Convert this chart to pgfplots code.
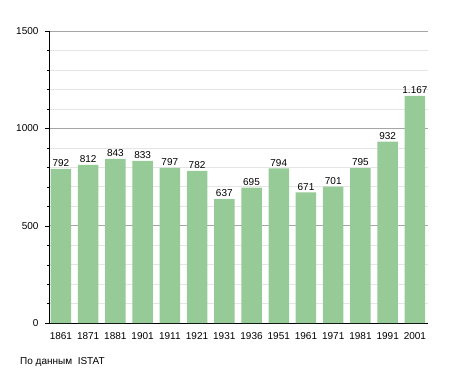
\documentclass[border=0pt]{standalone}
\usepackage{pgfplots}
\pgfplotsset{compat=1.18}
\usepackage{fontspec}
\setmainfont{Liberation Sans}
\definecolor{bargreen}{RGB}{150,202,150}
\begin{document}
\begin{tikzpicture}
\begin{axis}[
  at={(0,0)}, anchor=south west,
  scale only axis,
  width=378pt, height=292pt,
  xmin=-0.4, xmax=13.48,
  ymin=0, ymax=1500,
  ytick={0,500,1000,1500},
  minor y tick num=4,
  xtick={0,...,13},
  xticklabels={1861,1871,1881,1901,1911,1921,1931,1936,1951,1961,1971,1981,1991,2001},
  x tick style={draw=none},
  y tick style={black},
  tick align=outside,
  major tick length=5pt,
  minor tick length=3pt,
  axis x line*=bottom,
  axis y line*=left,
  axis line style={black, line width=1pt},
  ymajorgrids, yminorgrids,
  major grid style={gray!70, line width=0.6pt},
  minor grid style={gray!20, line width=0.6pt},
  /pgf/number format/assume math mode=true,
  /pgf/number format/1000 sep={},
  tick label style={font=\fontsize{10}{12}\selectfont},
  yticklabel style={xshift=-3pt},
  xticklabel style={yshift=-1pt},
  clip=false,
]
\addplot[ybar, bar width=20.5pt, fill=bargreen, draw=none,
  nodes near coords={\pgfmathprintnumber[1000 sep={.},assume math mode=true]{\pgfplotspointmeta}},
  every node near coord/.append style={font=\fontsize{10}{12}\selectfont, inner sep=2pt}]
  coordinates {(0,792) (1,812) (2,843) (3,833) (4,797) (5,782) (6,637) (7,695) (8,794) (9,671) (10,701) (11,795) (12,932) (13,1167)};
\end{axis}
\node[anchor=west, font=\fontsize{10}{12}\selectfont, inner sep=0pt] at (-30pt,-39pt) {По данным\ \ ISTAT};
\pgfresetboundingbox
\path (-50pt,-50pt) rectangle (405pt,323pt);
\end{tikzpicture}
\end{document}
